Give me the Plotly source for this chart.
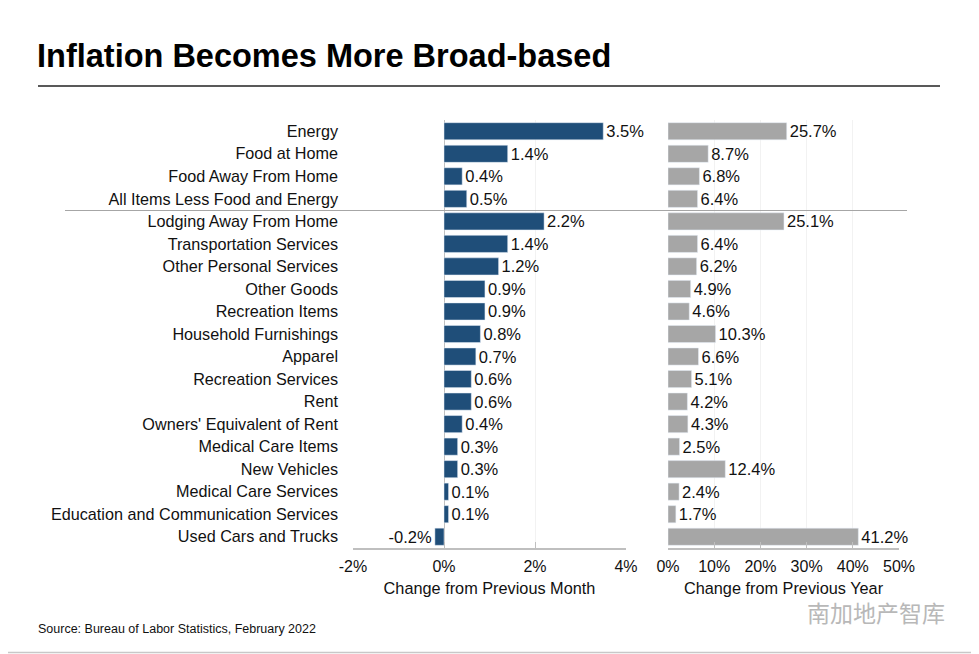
import plotly.graph_objects as go
from plotly.subplots import make_subplots

categories = [
    "Energy", "Food at Home", "Food Away From Home", "All Items Less Food and Energy",
    "Lodging Away From Home", "Transportation Services", "Other Personal Services",
    "Other Goods", "Recreation Items", "Household Furnishings", "Apparel",
    "Recreation Services", "Rent", "Owners' Equivalent of Rent", "Medical Care Items",
    "New Vehicles", "Medical Care Services", "Education and Communication Services",
    "Used Cars and Trucks",
]
monthly = [3.5, 1.4, 0.4, 0.5, 2.2, 1.4, 1.2, 0.9, 0.9, 0.8, 0.7, 0.6, 0.6, 0.4, 0.3, 0.3, 0.1, 0.1, -0.2]
yearly = [25.7, 8.7, 6.8, 6.4, 25.1, 6.4, 6.2, 4.9, 4.6, 10.3, 6.6, 5.1, 4.2, 4.3, 2.5, 12.4, 2.4, 1.7, 41.2]
monthly_ticks = [-2, 0, 2, 4]
yearly_ticks = [0, 10, 20, 30, 40, 50]

W, H = 979, 654
OFF = 8  # page body margin shifts the figure by this much on screen
SX0, SX1, SY0, SY1 = 353, 899, 120, 548
L, T = SX0 - OFF, SY0 - OFF
R, B = W - (SX1 - OFF), H - (SY1 - OFF)
PW, PH = W - L - R, H - T - B


def px(x):
    return (x - OFF - L) / PW


def py(y):
    return (H - B - (y - OFF)) / PH


FONT = "Liberation Sans, Arial, sans-serif"
BLUE = "#1F4E79"
GRAY = "#A6A6A6"
TXT = "#111111"

fig = make_subplots(rows=1, cols=2, shared_yaxes=True, horizontal_spacing=0.0)

fig.add_trace(go.Bar(
    y=categories, x=monthly, orientation="h", marker_color=BLUE,
    text=[f"{v:.1f}%" for v in monthly], textposition="outside",
    textfont=dict(size=16.5, color=TXT, family=FONT), cliponaxis=False,
    constraintext="none", showlegend=False,
), row=1, col=1)
fig.add_trace(go.Bar(
    y=categories, x=yearly, orientation="h", marker_color=GRAY,
    text=[f"{v:.1f}%" for v in yearly], textposition="outside",
    textfont=dict(size=16.5, color=TXT, family=FONT), cliponaxis=False,
    constraintext="none", showlegend=False,
), row=1, col=2)

axis_common = dict(
    showgrid=True, gridcolor="#F2F2F2", gridwidth=1,
    showline=True, linecolor="#BFBFBF", linewidth=1.5,
    ticks="inside", ticklen=6, tickcolor="#BFBFBF",
    tickfont=dict(size=16, color=TXT, family=FONT),
    title_font=dict(size=16.3, color=TXT, family=FONT),
    ticklabelstandoff=3, title_standoff=9,
)

fig.update_xaxes(
    domain=[0, px(626)], range=[-2, 4], tickvals=monthly_ticks,
    ticktext=[f"{v}%" for v in monthly_ticks],
    zeroline=True, zerolinecolor="#BFBFBF", zerolinewidth=1,
    title_text="Change from Previous Month", row=1, col=1, **axis_common,
)
fig.update_xaxes(
    domain=[px(668), 1.0], range=[0, 50], tickvals=yearly_ticks,
    ticktext=[f"{v}%" for v in yearly_ticks], zeroline=False,
    title_text="Change from Previous Year", row=1, col=2, **axis_common,
)
fig.update_yaxes(
    type="category", autorange="reversed", showgrid=False, zeroline=False,
    showline=False, ticks="", ticklabelstandoff=14,
    tickfont=dict(size=16.2, color=TXT, family=FONT), row=1, col=1,
)
fig.update_yaxes(showticklabels=False, showgrid=False, zeroline=False, row=1, col=2)

shapes = [
    dict(type="line", xref="paper", yref="paper", x0=px(38), x1=px(940), y0=py(86), y1=py(86),
         line=dict(color="#595959", width=2)),
    dict(type="line", xref="paper", yref="paper", x0=px(65), x1=px(907), y0=py(210.5), y1=py(210.5),
         line=dict(color="#A6A6A6", width=1)),
    dict(type="rect", xref="paper", yref="paper", x0=px(1), x1=px(977.5), y0=py(1), y1=py(652.5),
         line=dict(color="#C8C8C8", width=1.5)),
]

annotations = [
    dict(text="<b>Inflation Becomes More Broad-based</b>", xref="paper", yref="paper",
         x=px(35), y=py(56), xanchor="left", yanchor="middle", showarrow=False,
         font=dict(size=32.5, color="#000000", family=FONT)),
    dict(text="Source: Bureau of Labor Statistics, February 2022", xref="paper", yref="paper",
         x=px(36), y=py(629), xanchor="left", yanchor="middle", showarrow=False,
         font=dict(size=12.5, color=TXT, family=FONT)),
    dict(text="南加地产智库", xref="paper", yref="paper",
         x=px(876), y=py(612), xanchor="center", yanchor="middle", showarrow=False,
         font=dict(size=23, color="#B8B8B8", family="Noto Sans CJK SC")),
]

fig.update_layout(
    width=W, height=H, margin=dict(l=L, r=R, t=T, b=B),
    paper_bgcolor="white", plot_bgcolor="white",
    bargap=0.24, shapes=shapes, annotations=annotations,
    font=dict(family=FONT, color=TXT),
)

fig.write_html("out.html")
